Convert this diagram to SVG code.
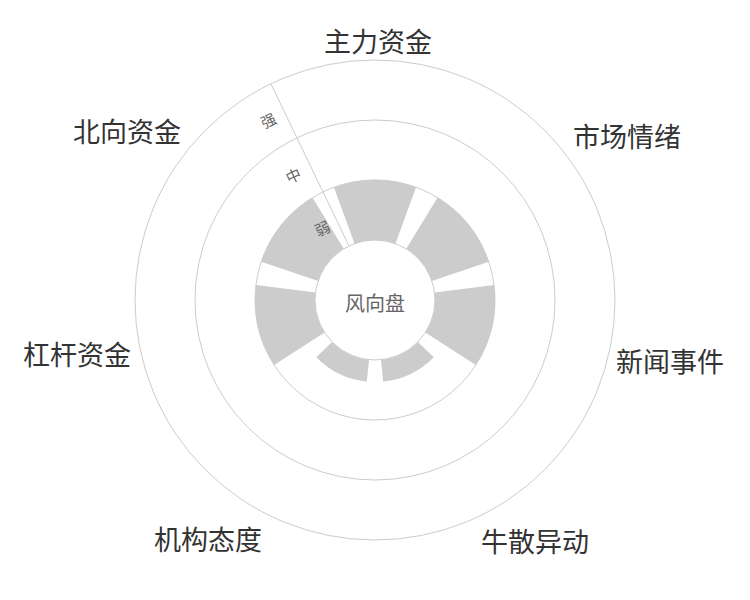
<svg xmlns="http://www.w3.org/2000/svg" width="750" height="600" viewBox="0 0 750 600">
<style>
.ring{fill:none;stroke:#ccc;stroke-width:1}
.bar{fill:#ccc}
.cat{font-family:"Noto Sans CJK SC",sans-serif;font-size:27px;fill:#333;text-anchor:middle;dominant-baseline:central}
.rl{font-family:"Noto Sans CJK SC",sans-serif;font-size:15px;fill:#666;text-anchor:middle;dominant-baseline:central}
</style>
<rect width="750" height="600" fill="#fff"/>
<g id="grid">
<circle class="ring" cx="375" cy="300" r="240"/>
<circle class="ring" cx="375" cy="300" r="180"/>
<circle class="ring" cx="375" cy="300" r="120" stroke="#e0e0e0"/>
<circle class="ring" cx="375" cy="300" r="60"/>
</g>
<g id="bars">
<path class="bar" d="M416.04,187.24 A120,120 0 0 0 333.96,187.24 L354.48,243.62 A60,60 0 0 1 395.52,243.62 Z"/>
<path class="bar" d="M488.75,261.78 A120,120 0 0 0 437.58,197.60 L406.29,248.80 A60,60 0 0 1 431.87,280.89 Z"/>
<path class="bar" d="M475.80,365.10 A120,120 0 0 0 494.07,285.08 L434.53,292.54 A60,60 0 0 1 425.40,332.55 Z"/>
<path class="bar" d="M383.16,381.59 A82,82 0 0 0 433.70,357.25 L417.95,341.89 A60,60 0 0 1 380.97,359.70 Z"/>
<path class="bar" d="M316.30,357.25 A82,82 0 0 0 366.84,381.59 L369.03,359.70 A60,60 0 0 1 332.05,341.89 Z"/>
<path class="bar" d="M255.93,285.08 A120,120 0 0 0 274.20,365.10 L324.60,332.55 A60,60 0 0 1 315.47,292.54 Z"/>
<path class="bar" d="M312.42,197.60 A120,120 0 0 0 261.25,261.78 L318.13,280.89 A60,60 0 0 1 343.71,248.80 Z"/>
</g>
<g id="radial-axis">
<line x1="349" y1="246" x2="270.9" y2="83.8" stroke="#ccc" stroke-width="1"/>
<text class="rl" transform="translate(322,228) rotate(-25)">弱</text>
<text class="rl" transform="translate(293,175) rotate(-25)">中</text>
<text class="rl" transform="translate(268,120) rotate(-25)">强</text>
</g>
<g id="center"><text x="375" y="302" font-family="Noto Sans CJK SC,sans-serif" font-size="20" fill="#666" text-anchor="middle" dominant-baseline="central">风向盘</text></g>
<g id="labels">
<text class="cat" x="378" y="40">主力资金</text>
<text class="cat" x="627" y="135">市场情绪</text>
<text class="cat" x="670" y="360">新闻事件</text>
<text class="cat" x="535" y="540">牛散异动</text>
<text class="cat" x="208" y="538">机构态度</text>
<text class="cat" x="77" y="353">杠杆资金</text>
<text class="cat" x="127" y="130">北向资金</text>
</g>
</svg>
